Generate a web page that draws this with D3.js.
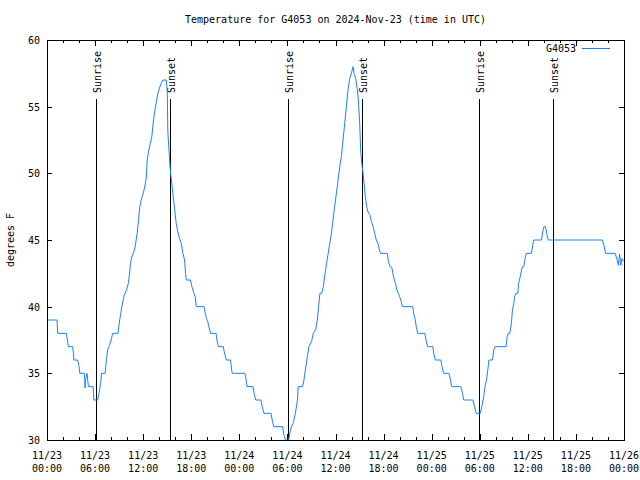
<!DOCTYPE html>
<html>
<head>
<meta charset="utf-8">
<script src="https://cdn.jsdelivr.net/npm/d3@7"></script>
<style>
  html, body { margin: 0; padding: 0; background: #fff; }
  svg { display: block; }
  text { font-family: "DejaVu Sans Mono", "Liberation Mono", monospace; font-size: 10px; fill: #000; }
</style>
</head>
<body>
<svg id="chart" width="640" height="480"></svg>
<script>
// ---- Data (hours after 2024-11-23 00:00 UTC, temperature in °F) ----
const hoursUTC = [
  0.05, 1.25, 1.33, 2.4, 2.55, 2.67, 3.2, 3.3, 3.35, 3.83, 4.0, 4.1, 4.65, 4.72, 4.75, 4.8, 4.9, 5.0, 5.08, 5.17,
  5.75, 5.85, 6.33, 6.42, 6.55, 6.7, 6.8, 7.25, 7.33, 7.42, 7.58, 7.8, 8.0, 8.2, 8.85, 9.0, 9.2, 9.4, 9.65, 9.9,
  10.17, 10.3, 10.42, 10.58, 10.83, 11.0, 11.25, 11.42, 11.58, 11.75, 11.96, 12.17, 12.38, 12.5, 12.7, 12.9, 13.08, 13.2, 13.42, 13.62,
  13.83, 14.04, 14.25, 14.46, 14.88, 15.0, 15.08, 15.3, 15.42, 15.58, 15.7, 15.9, 16.12, 16.33, 16.54, 16.75, 16.96, 17.17, 17.29, 17.38,
  17.9, 18.08, 18.33, 18.5, 18.62, 19.6, 19.75, 19.9, 20.05, 20.2, 20.4, 21.1, 21.2, 21.4, 22.0, 22.15, 22.38, 22.9, 23.1, 24.7,
  24.85, 24.95, 25.7, 25.85, 26.05, 26.7, 26.85, 27.07, 27.95, 28.1, 28.3, 29.4, 29.55, 29.75, 30.15, 30.43, 30.72, 30.99, 31.26, 31.34,
  31.89, 32.06, 32.27, 32.49, 32.69, 33.02, 33.23, 33.52, 33.73, 33.89, 34.06, 34.27, 34.48, 34.69, 34.89, 35.09, 35.29, 35.49, 35.69, 35.89,
  36.11, 36.32, 36.53, 36.73, 36.94, 37.15, 37.36, 37.56, 37.77, 37.98, 38.19, 38.31, 38.52, 38.73, 38.85, 39.02, 39.14, 39.27, 39.44, 39.56,
  39.73, 39.89, 40.06, 40.27, 40.48, 40.69, 40.89, 41.09, 41.29, 41.49, 41.63, 42.45, 42.6, 42.8, 43.05, 43.15, 43.35, 43.5, 43.65, 43.85,
  44.0, 44.15, 44.35, 45.65, 45.75, 45.95, 46.08, 46.25, 47.15, 47.29, 47.5, 48.15, 48.25, 48.45, 49.15, 49.29, 49.5, 50.15, 50.35, 50.5,
  51.65, 51.85, 52.0, 53.15, 53.35, 53.55, 54.08, 54.25, 54.5, 54.65, 54.85, 55.0, 55.15, 55.58, 55.75, 55.95, 57.29, 57.42, 57.55, 57.75,
  57.95, 58.08, 58.25, 58.35, 58.5, 58.75, 58.85, 59.05, 59.21, 59.33, 59.5, 59.65, 59.79, 60.45, 60.65, 60.75, 61.71, 61.85, 62.0, 62.21,
  62.35, 62.55, 69.3, 69.5, 69.7, 70.9, 71.15, 71.3, 71.45, 71.6, 71.75, 71.95
];
const tempF = [
  39, 39, 38, 38, 37.5, 37, 37, 36.5, 36, 36, 35.5, 35, 35, 34.5, 33.9, 34.5, 34.7, 35, 34.5, 34,
  34, 33, 33, 33.3, 33.7, 34.3, 35, 35, 35.5, 36.1, 36.8, 37.1, 37.5, 38, 38, 38.7, 39.5, 40.2, 40.9, 41.2,
  41.8, 42.5, 43.25, 43.75, 44.1, 44.5, 45.5, 46.5, 47.5, 48, 48.4, 48.9, 49.6, 51, 51.75, 52.25, 52.75, 53.5, 54.6, 55.25,
  56, 56.4, 56.75, 57, 57, 56.25, 53.1, 51, 50, 49.25, 48.5, 47.5, 46.25, 45.6, 45.1, 44.75, 44, 43.5, 42.5, 42,
  42, 41.5, 41, 40.75, 40, 40, 39.5, 39.1, 38.9, 38.5, 38, 38, 37.5, 37, 37, 36.5, 36, 36, 35, 35,
  34.5, 34, 34, 33.5, 33, 33, 32.5, 32, 32, 31.5, 31, 31, 30.4, 30, 30, 30.9, 31.25, 32, 33, 34,
  34, 34.5, 35.4, 36.25, 37, 37.4, 38, 38.25, 39, 40, 41, 41, 41.5, 42.5, 43.25, 44, 44.75, 45.5, 46.5, 47.5,
  48.5, 49.5, 50.5, 51.25, 52.5, 53.75, 55, 56.25, 57.1, 57.5, 58, 57.5, 57.1, 56.25, 55.5, 53.75, 51.75, 50.75, 50, 49.25,
  48.25, 47.5, 47.1, 46.9, 46.4, 46, 45.5, 45, 44.75, 44.25, 44, 44, 43.4, 43, 42.9, 42.5, 42, 41.75, 41.25, 41,
  40.75, 40.5, 40, 40, 39.5, 39, 38.5, 38, 38, 37.5, 37, 37, 36.5, 36, 36, 35.5, 35, 35, 34.5, 34,
  34, 33.5, 33, 33, 32.5, 32, 32, 32.5, 33.25, 34, 34.5, 35.25, 36, 36, 36.75, 37, 37, 37.75, 38, 38,
  38.75, 39.75, 40.25, 40.75, 41, 41, 41.75, 42.25, 42.75, 43, 43, 43.6, 44, 44, 44.75, 45, 45, 45.6, 46, 46,
  45.5, 45, 45, 44.6, 44, 44, 43.5, 43.1, 43.95, 43.1, 43.6, 43.4
];
const sunriseHours = [6.15, 30.1, 53.95];
const sunsetHours = [15.4, 39.35, 63.2];
const yTicks = [30, 35, 40, 45, 50, 55, 60];
const seriesName = "G4053";
const chartTitle = "Temperature for G4053 on 2024-Nov-23 (time in UTC)";
const yLabel = "degrees F";

// ---- Layout ----
const L = 47, R = 624, T = 40, B = 440;
const t0 = Date.UTC(2024, 10, 23, 0, 0);
const t1 = Date.UTC(2024, 10, 26, 0, 0);
const toDate = h => new Date(t0 + h * 3600000);

const svg = d3.select("#chart");
const x = d3.scaleUtc().domain([new Date(t0), new Date(t1)]).range([L, R]);
const y = d3.scaleLinear().domain([30, 60]).range([B, T]);

const data = hoursUTC.map((h, i) => ({ d: toDate(h), v: tempF[i] }));

svg.append("defs").append("clipPath").attr("id", "plotclip")
  .append("rect").attr("x", L).attr("y", T).attr("width", R - L).attr("height", B - T);

// Title (centred over the plot area)
svg.append("text").attr("x", (L + R) / 2).attr("y", 23).attr("text-anchor", "middle").text(chartTitle);

// Y label
svg.append("text").attr("transform", "translate(14,240) rotate(-90)")
  .attr("text-anchor", "middle").text(yLabel);

const majorX = d3.utcHour.every(6).range(new Date(t0), new Date(t1 + 1));
const minorX = d3.utcHour.every(2).range(new Date(t0), new Date(t1 + 1))
  .filter(d => d.getUTCHours() % 6 !== 0);

function styleAxis(g) {
  g.select(".domain").remove();
  g.selectAll("line").attr("stroke", "#000").attr("shape-rendering", "crispEdges");
  g.selectAll("text").remove();
}

// Bottom & top ticks (inward)
svg.append("g").attr("transform", `translate(0,${B})`)
  .call(d3.axisBottom(x).tickValues(majorX).tickSize(-6)).call(styleAxis);
svg.append("g").attr("transform", `translate(0,${B})`)
  .call(d3.axisBottom(x).tickValues(minorX).tickSize(-3)).call(styleAxis);
svg.append("g").attr("transform", `translate(0,${T})`)
  .call(d3.axisTop(x).tickValues(majorX).tickSize(-6)).call(styleAxis);
svg.append("g").attr("transform", `translate(0,${T})`)
  .call(d3.axisTop(x).tickValues(minorX).tickSize(-3)).call(styleAxis);
// Left & right ticks
svg.append("g").attr("transform", `translate(${L},0)`)
  .call(d3.axisLeft(y).tickValues(yTicks).tickSize(-5)).call(styleAxis);
svg.append("g").attr("transform", `translate(${R},0)`)
  .call(d3.axisRight(y).tickValues(yTicks).tickSize(-5)).call(styleAxis);

// X tick labels (two lines)
const fmtDay = d3.utcFormat("%m/%d"), fmtTime = d3.utcFormat("%H:%M");
const xl = svg.append("g").selectAll("text").data(majorX).join("text")
  .attr("text-anchor", "middle");
xl.append("tspan").attr("x", d => x(d)).attr("y", 459).text(d => fmtDay(d));
xl.append("tspan").attr("x", d => x(d)).attr("y", 472).text(d => fmtTime(d));

// Y tick labels
svg.append("g").selectAll("text").data(yTicks).join("text")
  .attr("x", 40).attr("y", d => y(d) + 4).attr("text-anchor", "end").text(d => d);

// Sunrise / sunset markers
const events = sunriseHours.map(h => ({ h, label: "Sunrise" }))
  .concat(sunsetHours.map(h => ({ h, label: "Sunset" })));
const ev = svg.append("g");
ev.selectAll("line").data(events).join("line")
  .attr("x1", d => Math.round(x(toDate(d.h))) + 0.5).attr("x2", d => Math.round(x(toDate(d.h))) + 0.5)
  .attr("y1", 99).attr("y2", B).attr("stroke", "#000").attr("stroke-width", 1)
  .attr("shape-rendering", "crispEdges");
ev.selectAll("text").data(events).join("text")
  .attr("transform", d => `translate(${Math.round(x(toDate(d.h))) + 5},93) rotate(-90)`)
  .attr("text-anchor", "start").text(d => d.label);

// Series line
svg.append("path").datum(data)
  .attr("clip-path", "url(#plotclip)")
  .attr("fill", "none").attr("stroke", "#1a80ff").attr("stroke-width", 1)
  .attr("d", d3.line().x(d => x(d.d)).y(d => y(d.v)));

// Frame
svg.append("rect").attr("x", L + 0.5).attr("y", T + 0.5).attr("width", R - L).attr("height", B - T)
  .attr("fill", "none").attr("stroke", "#000").attr("stroke-width", 1).attr("shape-rendering", "crispEdges");

// Legend
svg.append("text").attr("x", 576).attr("y", 52).attr("text-anchor", "end").text(seriesName);
svg.append("line").attr("x1", 582).attr("x2", 610).attr("y1", 48.5).attr("y2", 48.5)
  .attr("stroke", "#1a80ff").attr("stroke-width", 1);
</script>
</body>
</html>
